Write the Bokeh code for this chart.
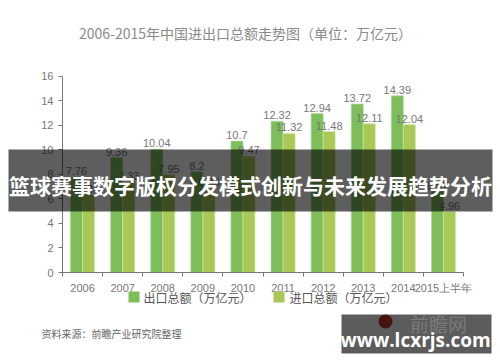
from bokeh.plotting import figure
from bokeh.models import Label, BoxAnnotation, FixedTicker, ColumnDataSource, Range1d, GridBox
from bokeh.transform import dodge
from bokeh.core.properties import value
from bokeh.embed import file_html
from bokeh.resources import INLINE

# ---- data ----
years = ["2006", "2007", "2008", "2009", "2010", "2011", "2012", "2013", "2014", "2015上半年"]
exports = [7.76, 9.36, 10.04, 8.2, 10.7, 12.32, 12.94, 13.72, 14.39, 6.57]
imports = [6.33, 7.33, 7.95, 6.86, 9.47, 11.32, 11.48, 12.11, 12.04, 4.96]
y_ticks = [0, 2, 4, 6, 8, 10, 12, 14, 16]

title_text = "2006-2015年中国进出口总额走势图（单位：万亿元）"
export_name = "出口总额（万亿元）"
import_name = "进口总额（万亿元）"
source_text = "资料来源：前瞻产业研究院整理"
banner_text = "篮球赛事数字版权分发模式创新与未来发展趋势分析"
mark_text = "www.lcxrjs.com"
logo_text = "前瞻网"

EXP_C = "#7dbd5a"
IMP_C = "#a8c957"
CJK = "Noto Sans CJK SC"
NUM = "Liberation Sans"

# ---- layout ----
W, H = 500, 362
BL, BR, BT = 62, 37, 68
FRAME_H = 190
BB = 90
n = len(years)
PX_PER_Y = 11.4375
y_end = FRAME_H / PX_PER_Y

p = figure(width=W, height=H, output_backend="svg", toolbar_location=None,
           x_range=Range1d(-0.5, n - 0.5), y_range=Range1d(0, y_end),
           min_border_left=BL, min_border_right=BR, min_border_top=BT, min_border_bottom=BB)
p.outline_line_color = None
p.grid.visible = False
p.background_fill_color = "white"
p.border_fill_color = "white"

src = ColumnDataSource(dict(
    x=list(range(n)), exp=exports, imp=imports,
    exp_lbl=[str(v) for v in exports], imp_lbl=[str(v) for v in imports]))

p.vbar(x=dodge("x", -0.15), top="exp", width=0.3, source=src,
       fill_color=EXP_C, line_color="#b5dc9e", line_alpha=0.7, line_width=1)
p.vbar(x=dodge("x", 0.15), top="imp", width=0.3, source=src,
       fill_color=IMP_C, line_color="#d2e59c", line_alpha=0.7, line_width=1)

lbl_kw = dict(text_align="center", text_baseline="bottom", y_offset=-2,
              text_font_size="11px", text_color="#777777", source=src)
p.text(x=dodge("x", -0.15), y="exp", text="exp_lbl", text_font=value(NUM), **lbl_kw)
p.text(x=dodge("x", 0.15), y="imp", text="imp_lbl", text_font=value(NUM), **lbl_kw)

# axes
xa = p.xaxis[0]
xa.ticker = FixedTicker(ticks=list(range(n)), minor_ticks=[i - 0.5 for i in range(n + 1)])
xa.major_label_overrides = {i: years[i] for i in range(n)}
xa.major_tick_line_color = None
xa.major_tick_out = 0
xa.major_tick_in = 0
xa.minor_tick_line_color = "#777777"
xa.minor_tick_out = 4
xa.minor_tick_in = 0
xa.major_label_standoff = 5
xa.major_label_text_font = NUM
xa.major_label_text_font_size = "11px"
xa.major_label_text_color = "#777777"
xa.axis_line_color = "#777777"

ya = p.yaxis[0]
ya.ticker = FixedTicker(ticks=y_ticks)
ya.bounds = (0, 16)
ya.major_tick_out = 4
ya.major_tick_in = 0
ya.minor_tick_line_color = None
ya.major_tick_line_color = "#777777"
ya.axis_line_color = "#777777"
ya.major_label_standoff = 5
ya.major_label_text_font = NUM
ya.major_label_text_font_size = "11px"
ya.major_label_text_color = "#777777"

# ---- transparent overlay figure (pixel space) for title, legend, notes, banner ----
ov = figure(width=W, height=H, output_backend="svg", toolbar_location=None,
            x_range=Range1d(0, W), y_range=Range1d(H, 0), min_border=0,
            x_axis_location=None, y_axis_location=None)
for g in list(ov.center):
    g.visible = False
ov.outline_line_color = None
ov.background_fill_color = None
ov.border_fill_color = None
if "frame_align" in ov.properties():
    ov.frame_align = False


def label(x, y, text, **kw):
    ov.add_layout(Label(x=x, y=y, text=text, **kw))


def box(l, r, t, b, **kw):
    ov.add_layout(BoxAnnotation(left=l, right=r, top=t, bottom=b, line_color=None, **kw))


# title
label(245, 32, title_text, text_align="center", text_baseline="middle",
      text_font=CJK, text_font_size="14px", text_color="#8a8a8a")

# legend
box(128, 139, 291, 302, fill_color=EXP_C, fill_alpha=1)
label(143, 296.5, export_name, text_align="left", text_baseline="middle",
      text_font=CJK, text_font_size="12px", text_color="#555555")
box(273, 284, 291, 302, fill_color=IMP_C, fill_alpha=1)
label(289, 296.5, import_name, text_align="left", text_baseline="middle",
      text_font=CJK, text_font_size="12px", text_color="#555555")

# source
label(41, 333, source_text, text_align="left", text_baseline="middle",
      text_font=CJK, text_font_size="10px", text_color="#666666")

# banner overlay
box(8, 492, 149, 211, fill_color="black", fill_alpha=0.63)
label(250, 184, banner_text, text_align="center", text_baseline="middle",
      text_font=CJK, text_font_size="21px", text_font_style="bold",
      text_color="white")

# watermark
ov.circle(x=[385], y=[321], radius=7, fill_color="#c0392b", line_color=None)
box(341, 491, 314, 353, fill_color="black", fill_alpha=0.64)
label(438, 323, logo_text, text_align="center", text_baseline="middle",
      text_font=CJK, text_font_size="19px", text_color="#7a7a7a")
label(415, 339, mark_text, text_align="center", text_baseline="middle",
      text_font="Open Sans", text_font_size="19px", text_font_style="bold",
      text_color="white")

layout = GridBox(children=[(p, 0, 0), (ov, 0, 0)])
open("out.html", "w").write(file_html(layout, INLINE))
